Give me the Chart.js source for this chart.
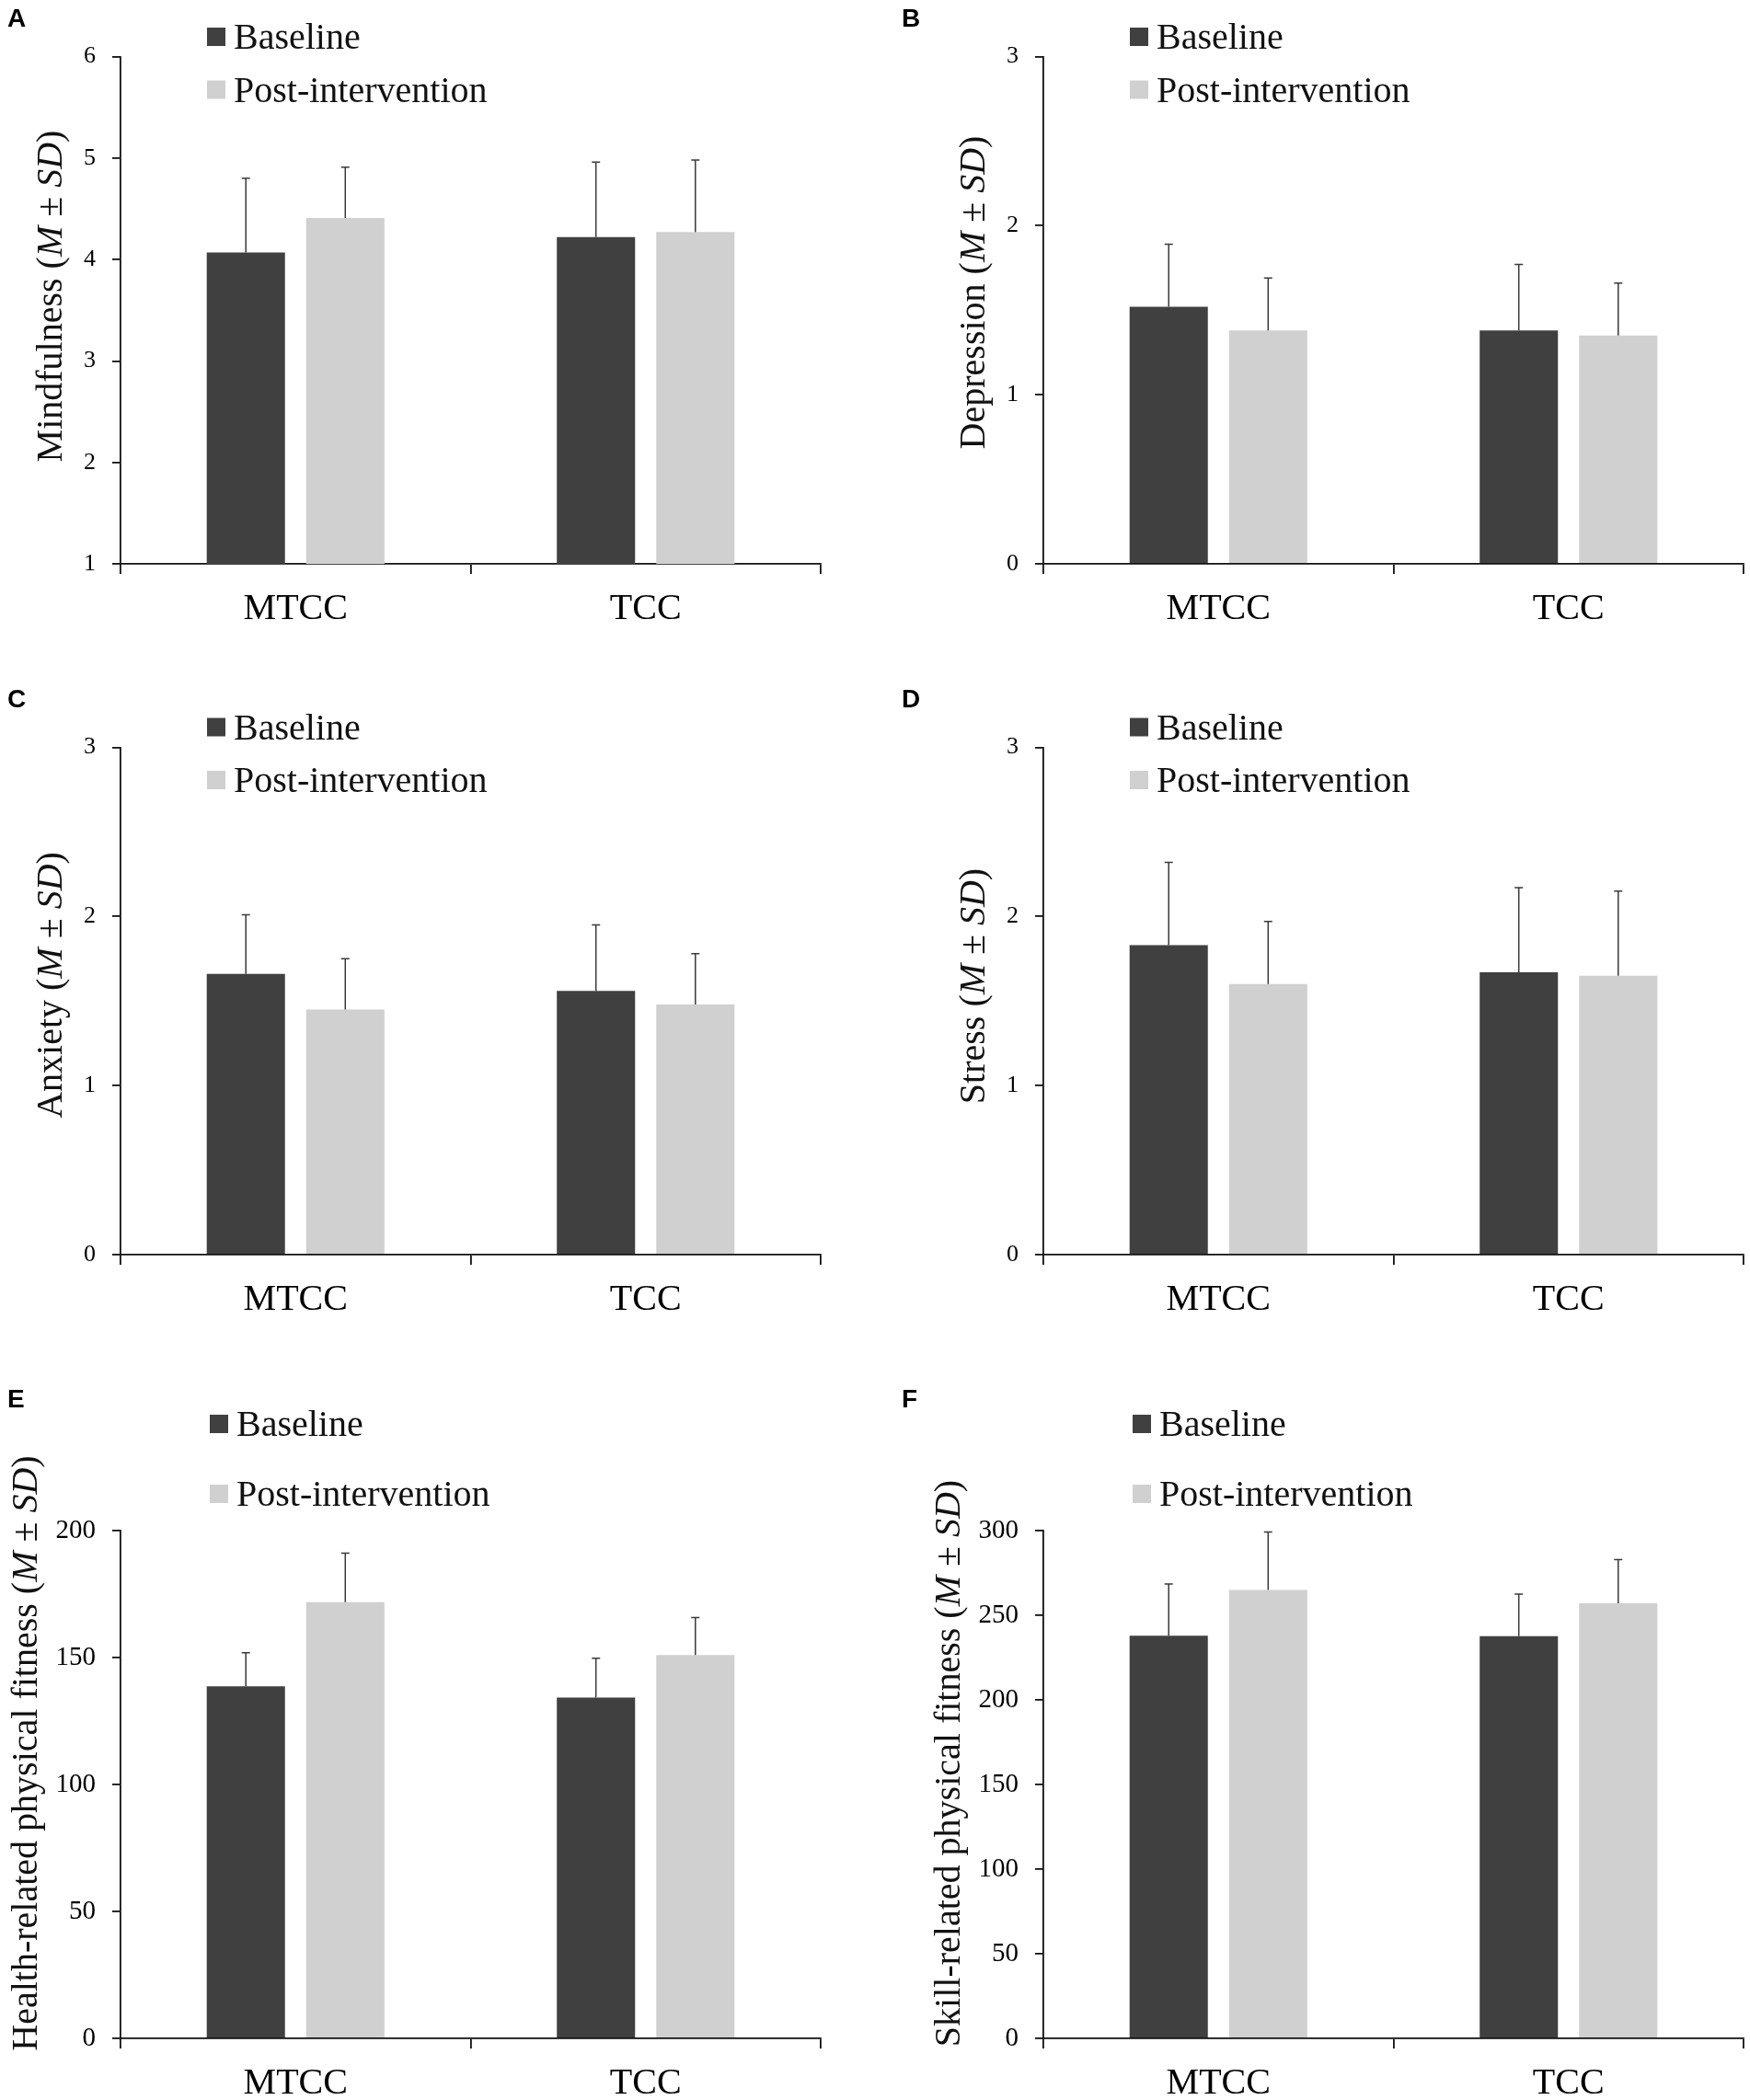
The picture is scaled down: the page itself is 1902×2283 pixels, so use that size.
<!DOCTYPE html>
<html>
<head>
<meta charset="utf-8">
<script src="https://cdn.jsdelivr.net/npm/chart.js@4.4.1/dist/chart.umd.min.js"></script>
<style>
  body { margin: 0; background: #fff; }
  #wrap { position: relative; width: 1902px; height: 2283px; overflow: hidden; }
  canvas { position: absolute; }
</style>
</head>
<body>
<div id="wrap"></div>
<script>
// ---- data ----
const categories = ['MTCC', 'TCC'];
const seriesLabels = ['Baseline', 'Post-intervention'];
const panelLetters = ['A', 'B', 'C', 'D', 'E', 'F'];
const yTitles = ['Mindfulness', 'Depression', 'Anxiety', 'Stress',
  'Health-related physical fitness', 'Skill-related physical fitness'];
const yMin = [1, 0, 0, 0, 0, 0];
const yMax = [6, 3, 3, 3, 200, 300];
const yStep = [1, 1, 1, 1, 50, 50];

const mindfulnessBase = [4.07, 4.22];
const mindfulnessBaseSD = [0.73, 0.74];
const mindfulnessPost = [4.41, 4.27];
const mindfulnessPostSD = [0.50, 0.71];

const depressionBase = [1.52, 1.38];
const depressionBaseSD = [0.37, 0.39];
const depressionPost = [1.38, 1.35];
const depressionPostSD = [0.31, 0.31];

const anxietyBase = [1.66, 1.56];
const anxietyBaseSD = [0.35, 0.39];
const anxietyPost = [1.45, 1.48];
const anxietyPostSD = [0.30, 0.30];

const stressBase = [1.83, 1.67];
const stressBaseSD = [0.49, 0.50];
const stressPost = [1.60, 1.65];
const stressPostSD = [0.37, 0.50];

const healthBase = [138.7, 134.2];
const healthBaseSD = [13.2, 15.5];
const healthPost = [171.8, 151.0];
const healthPostSD = [19.3, 14.8];

const skillBase = [237.9, 237.6];
const skillBaseSD = [30.6, 24.9];
const skillPost = [265.0, 257.1];
const skillPostSD = [34.2, 25.8];

const baseMeans = [mindfulnessBase, depressionBase, anxietyBase, stressBase, healthBase, skillBase];
const baseSDs = [mindfulnessBaseSD, depressionBaseSD, anxietyBaseSD, stressBaseSD, healthBaseSD, skillBaseSD];
const postMeans = [mindfulnessPost, depressionPost, anxietyPost, stressPost, healthPost, skillPost];
const postSDs = [mindfulnessPostSD, depressionPostSD, anxietyPostSD, stressPostSD, healthPostSD, skillPostSD];

// ---- layout (pixels) ----
const colLeft = [0, 951];
const rowTop = [0, 750, 1500];
const canvasH = [750, 750, 783];
const axisLeft = [131, 183];
const plotRight = [892, 944];
const plotTop = [61.5, 62.5, 164];
const plotBottom = [613, 614, 716];
const tickFont = [26, 26, 29];
const titleOffset = [64.5, 64.5, 91];
const titleCenter = [322, 318, 321, 322, 406, 417];
const legendRows = [[40, 97.5], [40.5, 98], [48, 124]];
const legendDx = [94, 94, 97];
const letterX = [8, 29];
const letterY = [29, 19, 30];

const serif = '"Liberation Serif", "Times New Roman", serif';
const darkFill = '#404040';
const lightFill = '#d0d0d0';
const axisColor = '#111';

function decor(i) {
  const col = i % 2, row = Math.floor(i / 2);
  return {
    id: 'decor' + i,
    afterDatasetsDraw(chart) {
      const ctx = chart.ctx;
      const ys = chart.scales.y;
      ctx.save();
      ctx.strokeStyle = '#3a3a3a';
      ctx.lineWidth = 1.5;
      chart.data.datasets.forEach((ds, k) => {
        chart.getDatasetMeta(k).data.forEach((bar, j) => {
          const top = ys.getPixelForValue(ds.data[j] + ds.sd[j]);
          ctx.beginPath();
          ctx.moveTo(bar.x, bar.y);
          ctx.lineTo(bar.x, top);
          ctx.moveTo(bar.x - 4.5, top);
          ctx.lineTo(bar.x + 4.5, top);
          ctx.stroke();
        });
      });
      ctx.restore();
    },
    afterDraw(chart) {
      const ctx = chart.ctx;
      ctx.save();
      // panel letter
      ctx.fillStyle = '#000';
      ctx.textBaseline = 'alphabetic';
      ctx.textAlign = 'left';
      ctx.font = 'bold 28px "Liberation Sans", Arial, sans-serif';
      ctx.fillText(panelLetters[i], letterX[col], letterY[row]);
      // legend
      const lx = chart.chartArea.left + legendDx[row];
      ctx.font = '40px ' + serif;
      chart.data.datasets.forEach((ds, k) => {
        const cy = legendRows[row][k];
        ctx.fillStyle = ds.backgroundColor;
        ctx.fillRect(lx, cy - 10, 20, 20);
        ctx.fillStyle = '#111';
        ctx.fillText(ds.label, lx + 29, cy + 13);
      });
      // y title with italic M and SD
      const segs = [[yTitles[i] + ' (', false], ['M', true], [' \u00b1 ', false], ['SD', true], [')', false]];
      const fontOf = it => (it ? 'italic ' : '') + '40px ' + serif;
      let total = 0;
      segs.forEach(s => { ctx.font = fontOf(s[1]); s.push(ctx.measureText(s[0]).width); total += s[2]; });
      ctx.translate(chart.chartArea.left - titleOffset[row], titleCenter[i]);
      ctx.rotate(-Math.PI / 2);
      let x = -total / 2;
      segs.forEach(s => { ctx.font = fontOf(s[1]); ctx.fillText(s[0], x, 0); x += s[2]; });
      ctx.restore();
    }
  };
}

const wrap = document.getElementById('wrap');
for (let i = 0; i < 6; i++) {
  const col = i % 2, row = Math.floor(i / 2);
  const H = canvasH[row];
  const cv = document.createElement('canvas');
  cv.width = 951; cv.height = H;
  cv.style.width = '951px'; cv.style.height = H + 'px';
  cv.style.left = colLeft[col] + 'px'; cv.style.top = rowTop[row] + 'px';
  wrap.appendChild(cv);

  new Chart(cv, {
    type: 'bar',
    data: {
      labels: categories,
      datasets: [
        { label: seriesLabels[0], data: baseMeans[i], sd: baseSDs[i], backgroundColor: darkFill,
          categoryPercentage: 0.568, barPercentage: 0.787 },
        { label: seriesLabels[1], data: postMeans[i], sd: postSDs[i], backgroundColor: lightFill,
          categoryPercentage: 0.568, barPercentage: 0.787 }
      ]
    },
    options: {
      responsive: false,
      animation: false,
      devicePixelRatio: 1,
      layout: { padding: { left: 0, right: 951 - plotRight[col], top: plotTop[row], bottom: 0 } },
      plugins: { legend: { display: false }, tooltip: { enabled: false } },
      scales: {
        x: {
          grid: { drawOnChartArea: false, drawTicks: true, tickLength: 11, color: axisColor, lineWidth: 1.8, offset: true },
          border: { color: axisColor, width: 1.8 },
          ticks: { font: { family: serif, size: 40 }, color: '#000', padding: 14 },
          afterFit(s) { s.height = H - plotBottom[row]; }
        },
        y: {
          min: yMin[i],
          max: yMax[i],
          ticks: { stepSize: yStep[i], font: { family: serif, size: tickFont[row] }, color: '#000', padding: 18 },
          grid: { drawOnChartArea: false, drawTicks: true, tickLength: 9, color: axisColor, lineWidth: 1.8 },
          border: { color: axisColor, width: 1.8 },
          afterFit(s) { s.width = axisLeft[col]; }
        }
      }
    },
    plugins: [decor(i)]
  });
}
</script>
</body>
</html>
